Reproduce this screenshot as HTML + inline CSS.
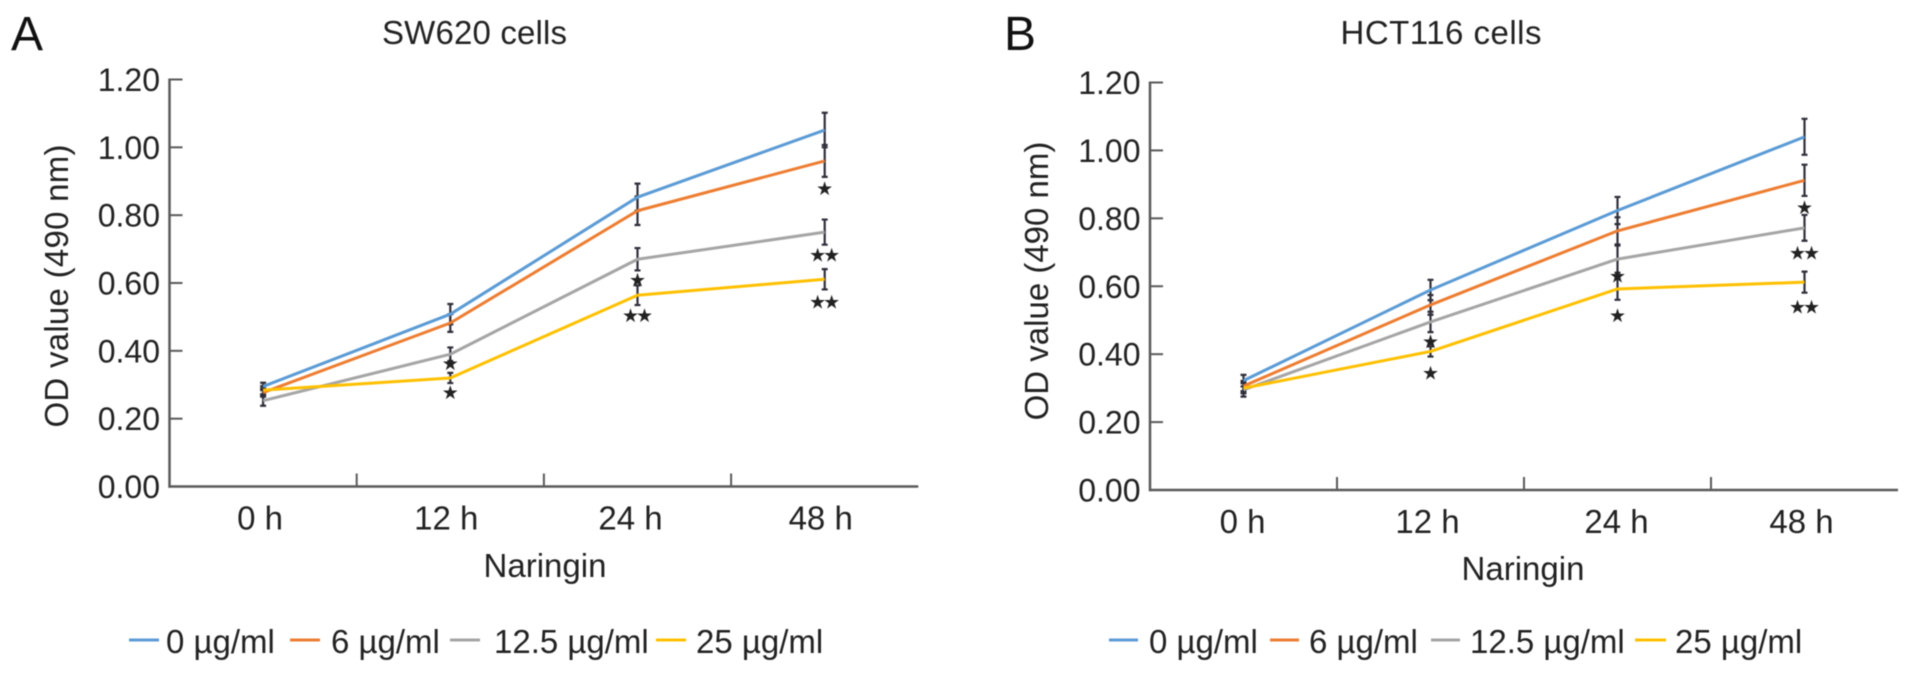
<!DOCTYPE html>
<html lang="en">
<head>
<meta charset="utf-8">
<title>OD value of SW620 and HCT116 cells</title>
<style>
html,body{margin:0;padding:0;background:#fff;width:1913px;height:675px;overflow:hidden}
svg{display:block;filter:blur(0.45px)}
text{font-family:"Liberation Sans",Arial,sans-serif;fill:#222}
.t33{font-size:33px}
.t32{font-size:32px}
.letter{font-size:48px;fill:#111}
.star{font-family:"DejaVu Sans",sans-serif;font-size:19px;fill:#222;text-anchor:middle}
</style>
</head>
<body>
<svg id="figure" width="1913" height="675" viewBox="0 0 1913 675" xmlns="http://www.w3.org/2000/svg">
  <text class="letter" x="11" y="50">A</text>
  <text class="letter" x="1004" y="50">B</text>
  <text class="t33" x="474.5" y="44" text-anchor="middle" textLength="185">SW620 cells</text>
  <text class="t33" x="1441" y="44" text-anchor="middle" textLength="201">HCT116 cells</text>
  <text class="t33" transform="translate(68,286) rotate(-90)" text-anchor="middle" textLength="283">OD value (490 nm)</text>
  <text class="t33" transform="translate(1048,281) rotate(-90)" text-anchor="middle">OD value (490 nm)</text>
  <text class="t33" x="545" y="577" text-anchor="middle">Naringin</text>
  <text class="t33" x="1523" y="580" text-anchor="middle">Naringin</text>

  <g>
    <line x1="129" x2="159" y1="640" y2="640" stroke="#5B9BD5" stroke-width="3"/>
    <text class="t33" x="166" y="653">0 µg/ml</text>
    <line x1="290" x2="320" y1="640" y2="640" stroke="#ED7D31" stroke-width="3"/>
    <text class="t33" x="331" y="653">6 µg/ml</text>
    <line x1="450" x2="480" y1="640" y2="640" stroke="#A5A5A5" stroke-width="3"/>
    <text class="t33" x="494" y="653">12.5 µg/ml</text>
    <line x1="656" x2="686" y1="640" y2="640" stroke="#FFC000" stroke-width="3"/>
    <text class="t33" x="696" y="653">25 µg/ml</text>
  </g>
  <g>
    <line x1="1109" x2="1138" y1="640" y2="640" stroke="#5B9BD5" stroke-width="3"/>
    <text class="t33" x="1149" y="653">0 µg/ml</text>
    <line x1="1270" x2="1299" y1="640" y2="640" stroke="#ED7D31" stroke-width="3"/>
    <text class="t33" x="1309" y="653">6 µg/ml</text>
    <line x1="1431" x2="1460" y1="640" y2="640" stroke="#A5A5A5" stroke-width="3"/>
    <text class="t33" x="1470" y="653">12.5 µg/ml</text>
    <line x1="1635" x2="1666" y1="640" y2="640" stroke="#FFC000" stroke-width="3"/>
    <text class="t33" x="1675" y="653">25 µg/ml</text>
  </g>
  <g id="panel-a"></g>
  <g id="panel-b"></g>
</svg>

<script>
// Shared axis data
const categories = ["0 h", "12 h", "24 h", "48 h"];
const yTickValues = [0, 0.2, 0.4, 0.6, 0.8, 1.0, 1.2];
const yTickLabels = ["0.00", "0.20", "0.40", "0.60", "0.80", "1.00", "1.20"];
const seriesNames = ["0-ug-ml", "6-ug-ml", "12-5-ug-ml", "25-ug-ml"];
const seriesColors = ["#5B9BD5", "#ED7D31", "#A5A5A5", "#FFC000"];

// Panel A: SW620 cells
const swMean0 = [0.295, 0.508, 0.853, 1.051];
const swMean6 = [0.277, 0.482, 0.813, 0.960];
const swMean12 = [0.253, 0.390, 0.670, 0.750];
const swMean25 = [0.284, 0.320, 0.564, 0.611];
const swErr0 = [0.011, 0.030, 0.040, 0.051];
const swErr6 = [0.012, 0.026, 0.042, 0.047];
const swErr12 = [0.015, 0.020, 0.033, 0.037];
const swErr25 = [0.012, 0.015, 0.029, 0.030];
const swSig0 = [0, 0, 0, 0];
const swSig6 = [0, 0, 0, 1];
const swSig12 = [0, 1, 1, 2];
const swSig25 = [0, 1, 2, 2];

// Panel B: HCT116 cells
const hctMean0 = [0.322, 0.589, 0.823, 1.040];
const hctMean6 = [0.306, 0.545, 0.763, 0.912];
const hctMean12 = [0.295, 0.495, 0.680, 0.772];
const hctMean25 = [0.300, 0.408, 0.592, 0.612];
const hctErr0 = [0.017, 0.030, 0.040, 0.053];
const hctErr6 = [0.015, 0.029, 0.040, 0.046];
const hctErr12 = [0.020, 0.030, 0.040, 0.038];
const hctErr25 = [0.015, 0.015, 0.032, 0.031];
const hctSig0 = [0, 0, 0, 0];
const hctSig6 = [0, 0, 0, 1];
const hctSig12 = [0, 1, 1, 2];
const hctSig25 = [0, 1, 1, 2];

const NS = "http://www.w3.org/2000/svg";

function make(parent, tag, attrs) {
  const el = document.createElementNS(NS, tag);
  for (const k in attrs) el.setAttribute(k, attrs[k]);
  parent.appendChild(el);
  return el;
}

function drawPanel(rootId, frame, means, errs, sigs) {
  const root = document.getElementById(rootId);
  const x = function (i) { return frame.left + frame.step * (i + 0.5); };
  const y = function (v) { return frame.bottom - (v / 1.2) * (frame.bottom - frame.top); };
  const right = frame.left + frame.step * categories.length;

  // axes
  const yAxis = make(root, "line", {x1: frame.left, x2: frame.left, y1: y(1.2) - 1, y2: y(0) + 1.2, stroke: "#5a5a5a", "stroke-width": 2.5});
  
  
  const xAxis = make(root, "line", {x1: frame.left - 1, x2: right, y1: y(0), y2: y(0), stroke: "#5a5a5a", "stroke-width": 2.5});
  
  

  yTickValues.forEach(function (v, i) {
    if (v > 0) {
      const tick = make(root, "line", {x1: frame.left, x2: frame.left + 13, y1: y(v), y2: y(v), stroke: "#5a5a5a", "stroke-width": 2});
      
      
    }
    const label = make(root, "text", {x: frame.left - 9.5, y: y(v) + 11.5, "text-anchor": "end", "class": "t32"});
    
    
    label.textContent = yTickLabels[i];
  });

  categories.forEach(function (c, i) {
    if (i > 0) {
      const tick = make(root, "line", {x1: frame.left + frame.step * i, x2: frame.left + frame.step * i, y1: y(0), y2: y(0) - 13, stroke: "#5a5a5a", "stroke-width": 2});
      
      
    }
    const label = make(root, "text", {x: x(i) + frame.labelShift[i], y: y(0) + frame.labelDrop, "text-anchor": "middle", "class": "t33"});
    
    
    label.textContent = c;
  });

  // error bars
  means.forEach(function (series, s) {
    series.forEach(function (m, i) {
      const hi = y(m + errs[s][i]);
      const lo = y(m - errs[s][i]);
      const bar = make(root, "path", {
        d: "M" + (x(i) - 3) + " " + hi + "H" + (x(i) + 3) + "M" + x(i) + " " + hi + "V" + lo + "M" + (x(i) - 3) + " " + lo + "H" + (x(i) + 3),
        stroke: "#2f2f3a", "stroke-width": 2.2, fill: "none"
      });
      
      
    });
  });

  // series lines
  means.forEach(function (series, s) {
    const pts = series.map(function (m, i) { return x(i) + "," + y(m); }).join(" ");
    const line = make(root, "polyline", {points: pts, fill: "none", stroke: seriesColors[s], "stroke-width": 3, "stroke-linejoin": "round"});
    
    
  });

  // significance stars, placed below the lower end of each error bar
  sigs.forEach(function (series, s) {
    series.forEach(function (count, i) {
      if (!count) return;
      const lo = y(means[s][i] - errs[s][i]);
      const gap = frame.starGap[s][i];
      for (let k = 0; k < count; k++) {
        const dx = count === 2 ? (k === 0 ? -7 : 7) : 0;
        const star = make(root, "text", {x: x(i) + dx, y: lo + gap + 7, "class": "star"});
        
        
        star.textContent = "\u2605";
      }
    });
  });
}

drawPanel("panel-a",
  {left: 169.5, step: 187.2, top: 79.5, bottom: 486.5, labelShift: [-3, -4, -7, -4], labelDrop: 43,
   starGap: [[0,0,0,0],[0,0,0,11],[0,2,9,10],[0,9,10,12]]},
  [swMean0, swMean6, swMean12, swMean25],
  [swErr0, swErr6, swErr12, swErr25],
  [swSig0, swSig6, swSig12, swSig25]);

drawPanel("panel-b",
  {left: 1150, step: 187, top: 82.5, bottom: 490, labelShift: [-1, -3, -1, -3], labelDrop: 43,
   starGap: [[0,0,0,0],[0,0,0,11],[0,9,3,12],[0,16,15,14]]},
  [hctMean0, hctMean6, hctMean12, hctMean25],
  [hctErr0, hctErr6, hctErr12, hctErr25],
  [hctSig0, hctSig6, hctSig12, hctSig25]);
</script>
</body>
</html>
